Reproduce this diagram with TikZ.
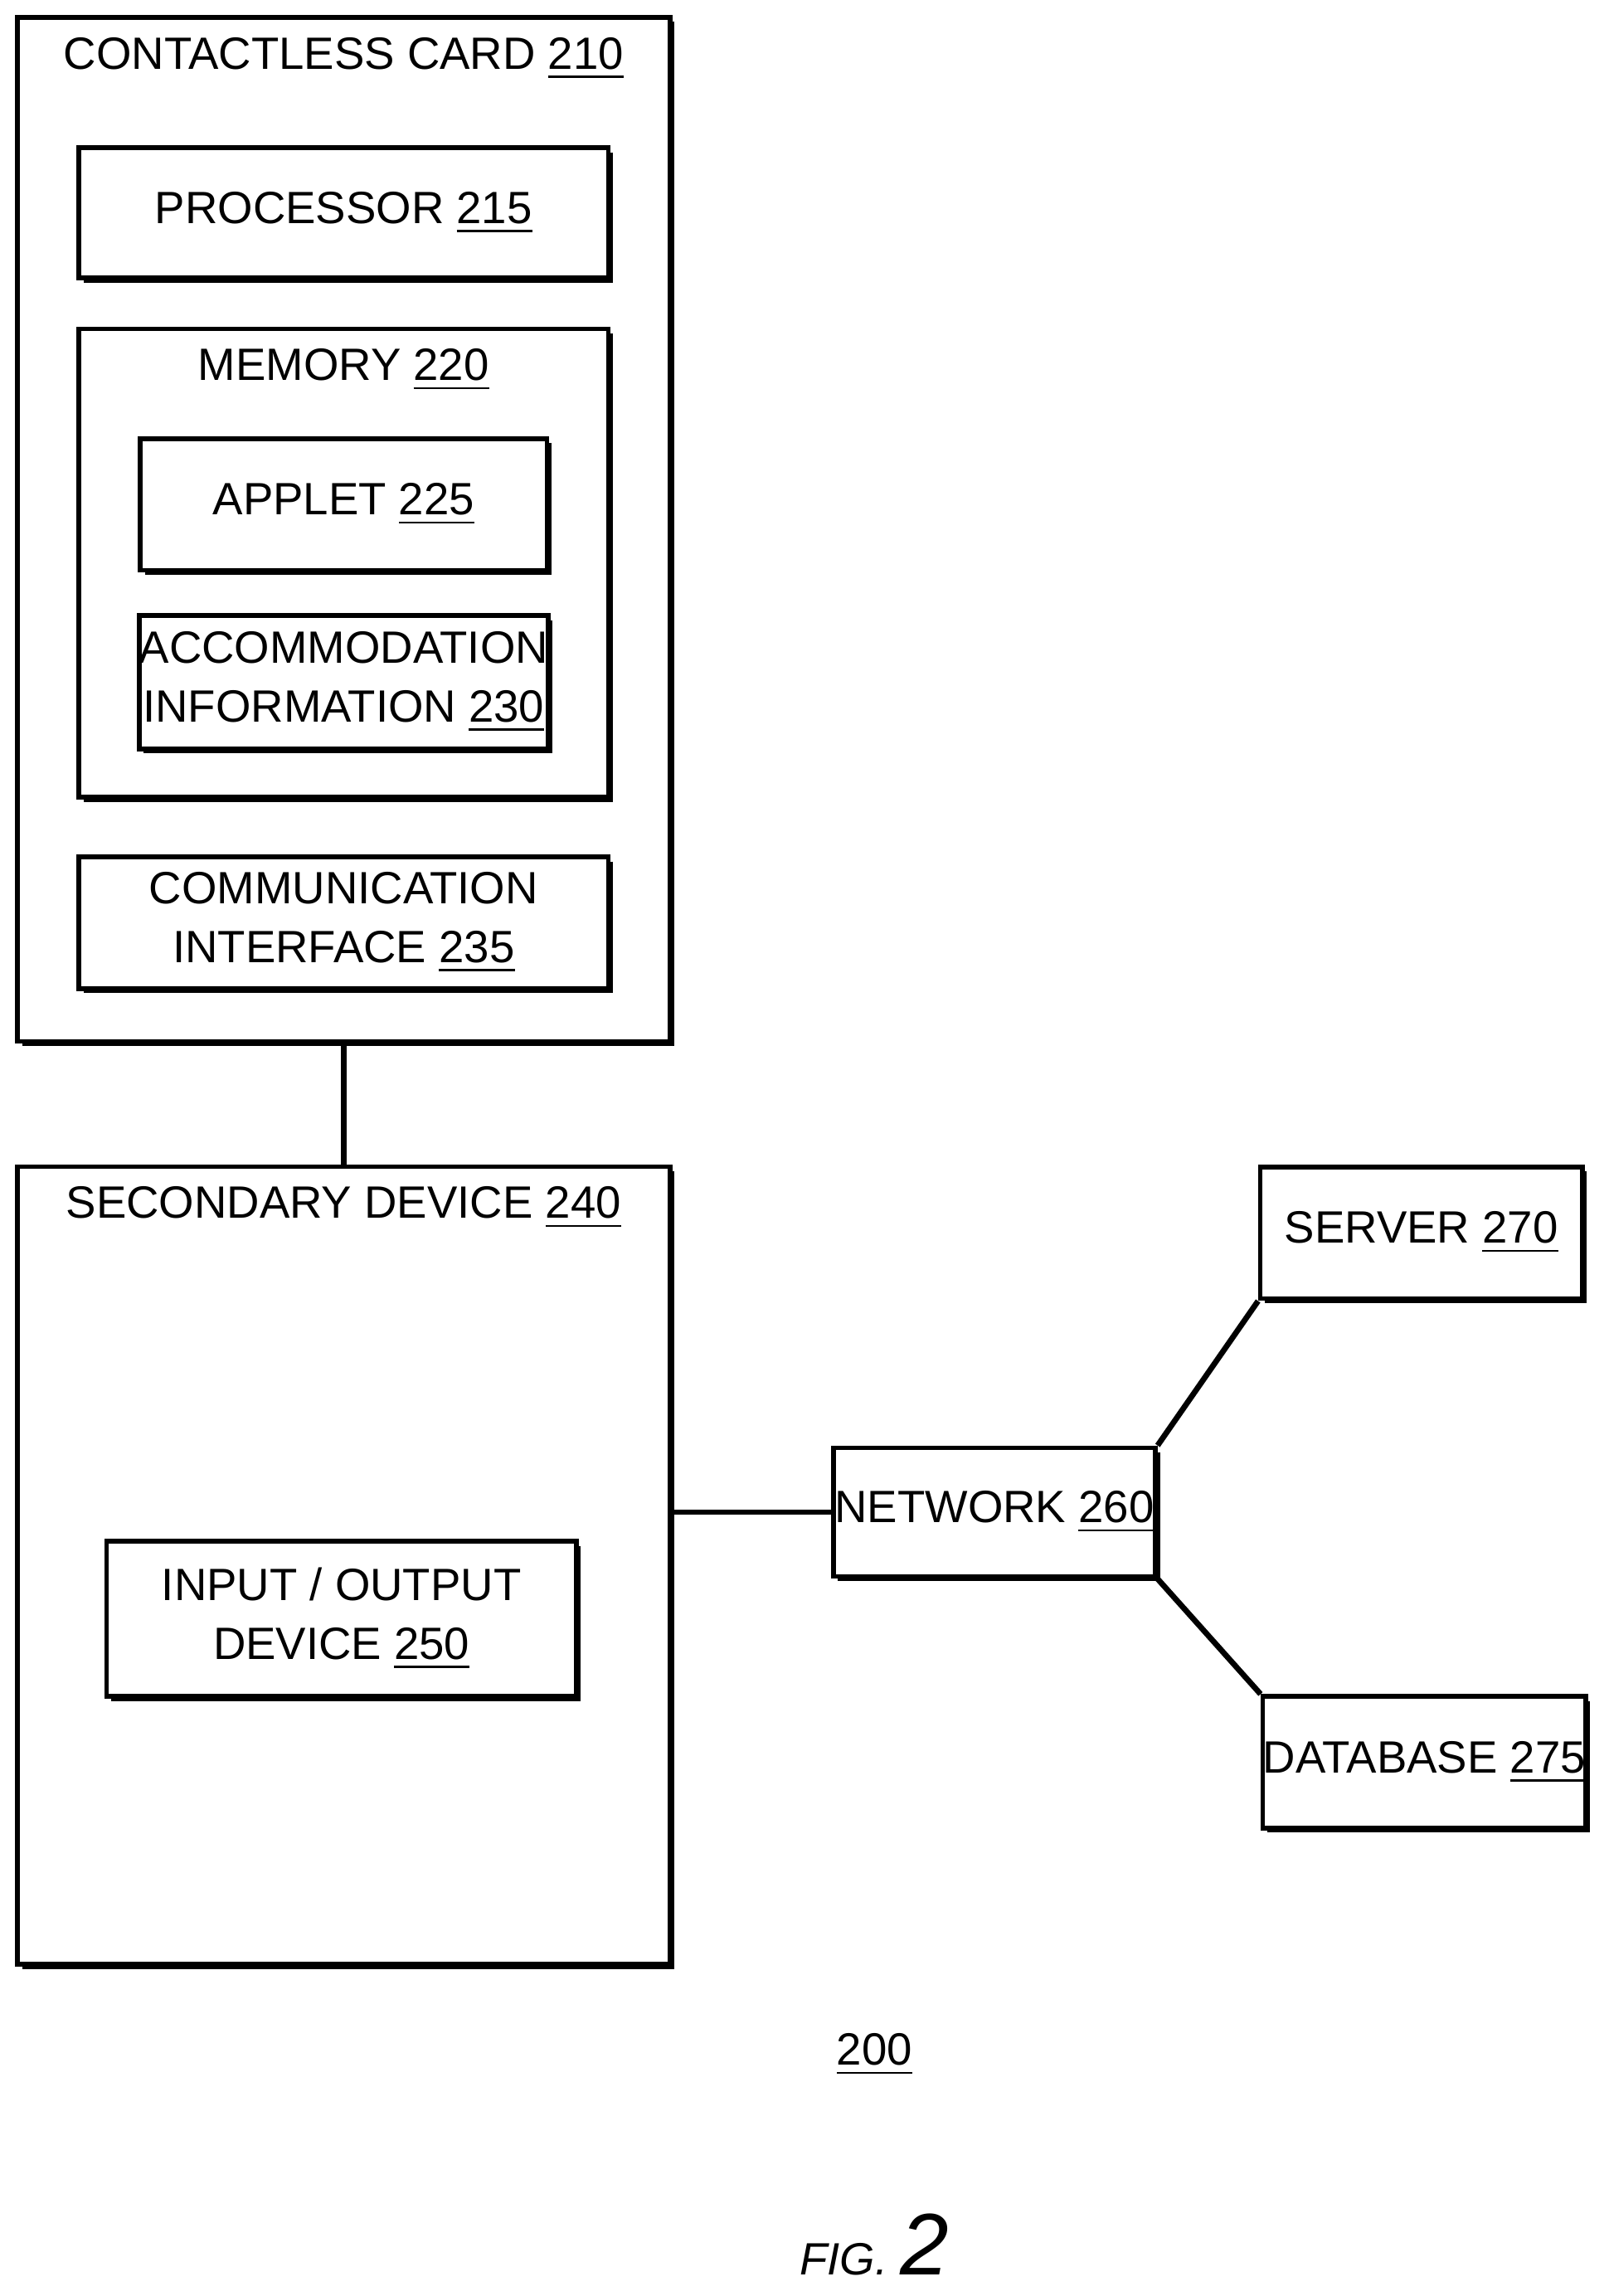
\documentclass[tikz,border=0pt]{standalone}
\usepackage{fontspec}
\setmainfont{Liberation Sans}
\usetikzlibrary{shadows}
\begin{document}
\begin{tikzpicture}[x=0.01cm,y=-0.01cm,font=\fontsize{8.8}{11.4}\selectfont]
  \tikzstyle{box}=[draw=black, fill=white, line width=0.9pt, align=center, inner sep=0pt,
    drop shadow={shadow xshift=0.9pt, shadow yshift=-0.9pt, fill=black, opacity=1}]
  \tikzstyle{link}=[line width=1.1pt]
  \useasboundingbox (0,0) rectangle (1100,1570);

  \node[box, minimum width=4.46cm, minimum height=7.00cm] (card) at (235,362){};
  \node (cardlbl) at (235,40){CONTACTLESS CARD \underline{210}};
  \node[box, minimum width=3.62cm, minimum height=0.89cm] (proc) at (235,145.5){PROCESSOR \underline{215}};
  \node[box, minimum width=3.62cm, minimum height=3.20cm] (mem) at (235,385){};
  \node (memlbl) at (235,253){MEMORY \underline{220}};
  \node[box, minimum width=2.78cm, minimum height=0.90cm] (applet) at (235,345){APPLET \underline{225}};
  \node[box, minimum width=2.78cm, minimum height=0.91cm] (accom) at (235,466.5){ACCOMMODATION\\INFORMATION \underline{230}};
  \node[box, minimum width=3.62cm, minimum height=0.90cm] (comm) at (235,631){COMMUNICATION\\INTERFACE \underline{235}};

  \node[box, minimum width=4.46cm, minimum height=5.45cm] (sec) at (235,1070.5){};
  \node (seclbl) at (235,826){SECONDARY DEVICE \underline{240}};
  \node[box, minimum width=3.21cm, minimum height=1.06cm] (io) at (233.5,1107){INPUT / OUTPUT\\DEVICE \underline{250}};

  \node[box, minimum width=2.20cm, minimum height=0.88cm] (net) at (680,1034){NETWORK \underline{260}};
  \node[box, minimum width=2.20cm, minimum height=0.90cm] (server) at (972,843){SERVER \underline{270}};
  \node[box, minimum width=2.20cm, minimum height=0.90cm] (db) at (974,1205){DATABASE \underline{275}};

  \draw[link] (card.south) -- (sec.north);
  \draw[link] (sec.east |- net.west) -- (net.west);
  \draw[link] (net.north east) -- (server.south west);
  \draw[link] (net.south east) -- (db.north west);

  \node (num) at (598,1405){\underline{200}};
  \node (fig) at (598,1535){\itshape FIG. {\fontsize{17}{20}\selectfont 2}};
\end{tikzpicture}
\end{document}
